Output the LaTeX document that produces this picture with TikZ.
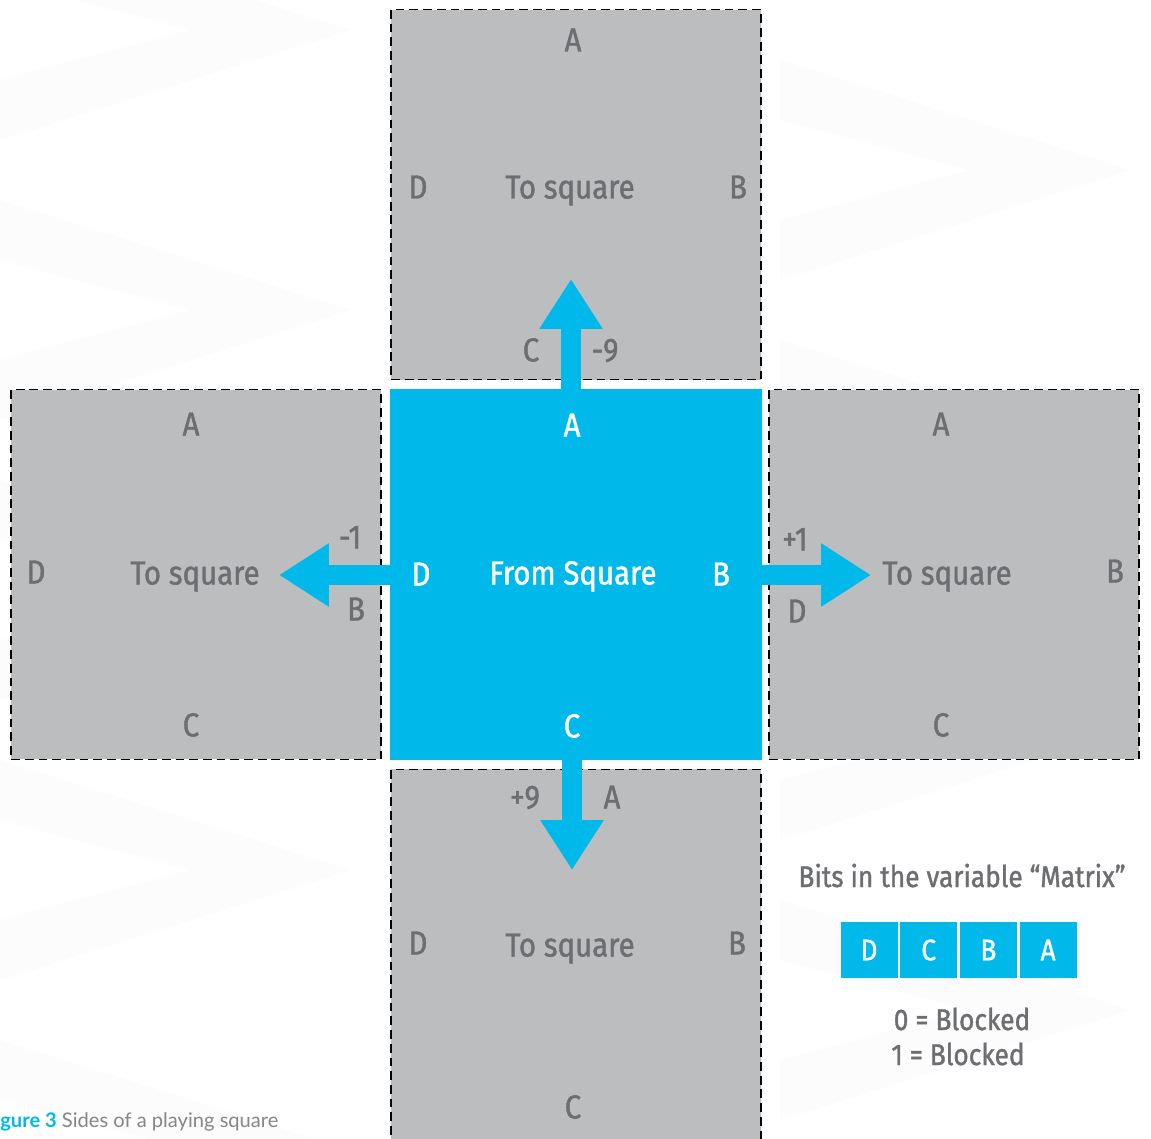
\documentclass[tikz,border=0pt]{standalone}
\usepackage{fontspec}
\setmainfont{Fira Sans}[FakeStretch=0.88, FakeBold=1.2]
\newfontfamily\capfont{Lato}
\usetikzlibrary{positioning,calc,arrows.meta}
\definecolor{sqgray}{HTML}{BCBDBF}
\definecolor{sqblue}{HTML}{00B9EA}
\definecolor{txtgray}{HTML}{6D6E71}
\definecolor{capgray}{HTML}{85868A}
\definecolor{bgfaint}{HTML}{FCFCFC}
\tikzset{
	tosq/.style = {draw=black, fill=sqgray, line width=0.8pt, dash pattern=on 5pt off 2.8pt, minimum size=7.4cm, inner sep=0pt, outer sep=0pt}, % the neighbour squares
	fromsq/.style = {fill=sqblue, minimum size=7.44cm, inner sep=0pt, outer sep=0pt},
	lbl/.style = {anchor=base, text=txtgray, inner sep=0pt, font=\fontsize{19}{22}\selectfont},
	wlbl/.style = {lbl, text=white},
	move/.style = {draw=sqblue, line width=0.4cm, -{Triangle[width=1.2cm,length=1cm]}},
	bit/.style = {fill=sqblue, text=white, minimum width=1.14cm, minimum height=1.12cm, inner sep=0pt, font=\fontsize{17}{20}\selectfont},
	note/.style = {anchor=base, text=txtgray, inner sep=0pt, font=\fontsize{17}{20}\selectfont}
}

\begin{document}
\begin{tikzpicture}[x=0.02cm, y=-0.02cm, node distance=0.18cm]
	\useasboundingbox (0,0) rectangle (1151,1138);
	\fill[white] (0,0) rectangle (1151,1138);
	% faint chevrons in the back
	\foreach \yy in {-80,200,480,760,1040} {
		\fill[bgfaint] (0,\yy) -- (350,\yy+110) -- (0,\yy+220) -- (0,\yy+160) -- (190,\yy+110) -- (0,\yy+60) -- cycle;
		\fill[bgfaint] (780,\yy+140) -- (1130,\yy+250) -- (780,\yy+360) -- (780,\yy+300) -- (970,\yy+250) -- (780,\yy+200) -- cycle;
	}
	% squares
	\node[fromsq] (centre) at (576,574.5) {};
	\node[tosq] (top) [above=of centre] {};
	\node[tosq] (left) [left=of centre] {};
	\node[tosq] (right) [right=0.14cm of centre] {};
	\node[tosq] (bottom) [below=of centre] {};
	% moves out of the square
	\coordinate (tipN) at (571,279);
	\coordinate (tipW) at (279,575);
	\coordinate (tipE) at (871,575);
	\coordinate (tipS) at (572,870);
	\draw[move] (centre.north -| tipN) -- (tipN);
	\draw[move] (centre.west |- tipW) -- (tipW);
	\draw[move] (centre.east |- tipE) -- (tipE);
	\draw[move] (centre.south -| tipS) -- (tipS);
	% top square
	\node[lbl] (topA) at (573,51.5) {A};
	\node[lbl] (topD) at (418,198.5) {D};
	\node[lbl] (topT) at (570,198.5) {To square};
	\node[lbl] (topB) at (738,198.5) {B};
	\node[lbl] (topC) at (531,361.5) {C};
	\node[lbl] (topN) at (605,361.5) {-9};
	% centre square
	\node[wlbl] (cenA) at (572,436.5) {A};
	\node[wlbl] (cenD) at (421,585.5) {D};
	\node[wlbl] (cenT) at (573,584.5) {From Square};
	\node[wlbl] (cenB) at (721,585.5) {B};
	\node[wlbl] (cenC) at (572,737.5) {C};
	% left square
	\node[lbl] (lftA) at (191,435.5) {A};
	\node[lbl] (lftD) at (36,583.5) {D};
	\node[lbl] (lftT) at (195,584.5) {To square};
	\node[lbl] (lftN) at (350,548.5) {-1};
	\node[lbl] (lftB) at (356,620.5) {B};
	\node[lbl] (lftC) at (191,736.5) {C};
	% right square
	\node[lbl] (rgtA) at (941,435.5) {A};
	\node[lbl] (rgtB) at (1115,582.5) {B};
	\node[lbl] (rgtT) at (947,584.5) {To square};
	\node[lbl] (rgtN) at (795,550.5) {+1};
	\node[lbl] (rgtD) at (797,622.5) {D};
	\node[lbl] (rgtC) at (941,736.5) {C};
	% bottom square
	\node[lbl] (botN) at (525,808.5) {+9};
	\node[lbl] (botA) at (612,808.5) {A};
	\node[lbl] (botD) at (418,954.5) {D};
	\node[lbl] (botT) at (570,956.5) {To square};
	\node[lbl] (botB) at (737,954.5) {B};
	\node[lbl] (botC) at (573,1118.5) {C};
	% bits of the variable
	\node[note] (bits) at (962,887) {Bits in the variable “Matrix”};
	\node[bit] (bitD) at (869,950) {D};
	\node[bit] (bitC) [right=0.04cm of bitD] {C};
	\node[bit] (bitB) [right=0.04cm of bitC] {B};
	\node[bit] (bitA) [right=0.04cm of bitB] {A};
	\node[note] (zero) at (962,1030) {0 = Blocked};
	\node[note] (one) at (958,1065) {1 = Blocked};
	% caption, as far as it shows
	\node[anchor=base west, inner sep=0pt, text=capgray, font=\capfont\fontsize{11.45}{14}\selectfont] (caption) at (0,1127) {{\bfseries\color{sqblue}gure 3} Sides of a playing square};
\end{tikzpicture}
\end{document}
